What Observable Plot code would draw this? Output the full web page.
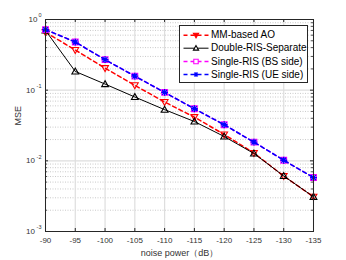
<!DOCTYPE html>
<html>
<head>
<meta charset="utf-8">
<script src="https://cdn.jsdelivr.net/npm/d3@7"></script>
<script src="https://cdn.jsdelivr.net/npm/@observablehq/plot@0.6"></script>
<style>
  html, body { margin: 0; padding: 0; background: #fff; }
</style>
</head>
<body>
<div id="chart"></div>
<script>
// ---- data ----
const noisePower = [-90, -95, -100, -105, -110, -115, -120, -125, -130, -135];
const mmBasedAO   = [0.66, 0.37, 0.205, 0.117, 0.068, 0.0415, 0.0236, 0.0129, 0.0061, 0.0031];
const doubleRIS   = [0.70, 0.184, 0.122, 0.080, 0.053, 0.036, 0.0221, 0.0127, 0.0061, 0.0031];
const singleBS    = [0.72, 0.48, 0.27, 0.158, 0.093, 0.0546, 0.0324, 0.0184, 0.0102, 0.0058];
const singleUE    = [0.72, 0.48, 0.27, 0.158, 0.093, 0.0546, 0.0324, 0.0184, 0.0102, 0.0058];
const seriesNames = ["MM-based AO", "Double-RIS-Separate", "Single-RIS (BS side)", "Single-RIS (UE side)"];
const xTicks = [-90, -95, -100, -105, -110, -115, -120, -125, -130, -135];
const yTicks = [1, 0.1, 0.01, 0.001];
const yExponents = ["0", "-1", "-2", "-3"];
const xLabel = "noise power（dB）";
const yLabel = "MSE";

// ---- derived tables ----
const rows = (vals) => noisePower.map((x, i) => ({x, y: vals[i]}));
const yMinor = [];
for (const d of [0.001, 0.01, 0.1]) for (let m = 2; m <= 9; m++) yMinor.push(+(m * d).toPrecision(3));
const yTickRows = yTicks.map((v, i) => ({v, e: yExponents[i]}));

// ---- custom symbols ----
const triDown = {draw(ctx, size) { const r = Math.sqrt(size / Math.PI);
  ctx.moveTo(0, r); ctx.lineTo(-r, -r * 0.75); ctx.lineTo(r, -r * 0.75); ctx.closePath(); }};
const triUp = {draw(ctx, size) { const r = Math.sqrt(size / Math.PI);
  ctx.moveTo(0, -r); ctx.lineTo(-r, r * 0.75); ctx.lineTo(r, r * 0.75); ctx.closePath(); }};
const sq = {draw(ctx, size) { const r = Math.sqrt(size / Math.PI) * 0.85;
  ctx.rect(-r, -r, 2 * r, 2 * r); }};
const star = {draw(ctx, size) { const r = Math.sqrt(size / Math.PI);
  for (const a of [0, Math.PI / 4, Math.PI / 2, 3 * Math.PI / 4]) {
    ctx.moveTo(r * Math.cos(a), r * Math.sin(a)); ctx.lineTo(-r * Math.cos(a), -r * Math.sin(a)); } }};
const seg = {draw(ctx) { ctx.moveTo(-12.5, 0); ctx.lineTo(12.5, 0); }};

const FW = 268, FH = 212; // frame size
const ink = "#262626";

const styles = [
  {vals: mmBasedAO, color: "#ff0000", dash: "4,3", lw: 1.5, sym: triDown},
  {vals: doubleRIS, color: "#000000", dash: null, lw: 1, sym: triUp},
  {vals: singleBS,  color: "#ff00ff", dash: "4,3", lw: 1.5, sym: sq},
  {vals: singleUE,  color: "#0000ff", dash: "4,3", lw: 1.5, sym: star}
];

const seriesMarks = styles.flatMap(s => [
  Plot.line(rows(s.vals), {x: "x", y: "y", stroke: s.color, strokeWidth: s.lw, strokeDasharray: s.dash}),
  Plot.dot(rows(s.vals), {x: "x", y: "y", symbol: s.sym, r: 3.4, stroke: s.color, fill: "none", strokeWidth: s.sym === star ? 1.3 : 1.1})
]);

const legendRowsY = [15.7, 28.7, 42, 55];
const legendMarks = [
  Plot.frame({fill: "white", stroke: ink, strokeWidth: 1, insetLeft: 134, insetRight: 6, insetTop: 6, insetBottom: 149}),
  ...styles.flatMap((s, i) => [
    Plot.dot([0], {frameAnchor: "top-left", dx: 150.5, dy: legendRowsY[i], symbol: seg, stroke: s.color,
      strokeWidth: s.lw, strokeDasharray: s.dash}),
    Plot.dot([0], {frameAnchor: "top-left", dx: 150.5, dy: legendRowsY[i], symbol: s.sym, r: 2.6,
      stroke: s.color, fill: s.sym === triDown ? s.color : "white", strokeWidth: 1.1}),
    Plot.text([seriesNames[i]], {frameAnchor: "top-left", dx: 165.5, dy: legendRowsY[i], text: d => d,
      textAnchor: "start", lineAnchor: "middle", fontSize: 10, fill: "#000"})
  ])
];

const chart = Plot.plot({
  width: 346,
  height: 260,
  marginLeft: 45,
  marginRight: 33,
  marginTop: 19,
  marginBottom: 29,
  style: {fontFamily: "'Liberation Sans', Arial, Helvetica, sans-serif", fontSize: "8px", background: "white", color: ink},
  x: {domain: [-90, -135]},
  y: {type: "log", domain: [0.001, 1]},
  marks: [
    // grid
    Plot.ruleY(yMinor, {y: d => d, stroke: "#bdbdbd", strokeDasharray: "1,1.5", strokeWidth: 0.8}),
    Plot.ruleX(xTicks, {x: d => d, stroke: "#dedede", strokeWidth: 1.2}),
    Plot.ruleY(yTicks, {y: d => d, stroke: "#dedede", strokeWidth: 1.2}),
    // tick marks (inside, both sides)
    Plot.tickX(xTicks, {x: d => d, insetTop: FH - 3, stroke: ink}),
    Plot.tickX(xTicks, {x: d => d, insetBottom: FH - 3, stroke: ink}),
    Plot.tickY(yTicks, {y: d => d, insetRight: FW - 3, stroke: ink}),
    Plot.tickY(yTicks, {y: d => d, insetLeft: FW - 3, stroke: ink}),
    Plot.tickY(yMinor, {y: d => d, insetRight: FW - 2, stroke: ink, strokeWidth: 0.8}),
    Plot.tickY(yMinor, {y: d => d, insetLeft: FW - 2, stroke: ink, strokeWidth: 0.8}),
    // axes labels
    Plot.axisX(xTicks, {tickSize: 0, tickPadding: 6, fontSize: 8, fill: "#333", tickFormat: d => `${d}`, label: null}),
    Plot.axisY({ticks: [], tickSize: 0, label: null}),
    Plot.text(yTickRows.filter(d => d.e === "0"), {y: "v", frameAnchor: "left", dx: -8, textAnchor: "end", text: () => "10", fontSize: 8, fill: "#333"}),
    Plot.text(yTickRows.filter(d => d.e !== "0"), {y: "v", frameAnchor: "left", dx: -10.5, textAnchor: "end", text: () => "10", fontSize: 8, fill: "#333"}),
    Plot.text(yTickRows, {y: "v", frameAnchor: "left", dx: -4, dy: -4, textAnchor: "end", text: "e", fontSize: 5.5, fill: "#333"}),
    Plot.text([xLabel], {frameAnchor: "bottom", dy: 22, text: d => d, fontSize: 9, fill: "#333", lineAnchor: "middle"}),
    Plot.text([yLabel], {frameAnchor: "left", dx: -27, rotate: -90, text: d => d, fontSize: 9, fill: "#333"}),
    // series
    ...seriesMarks,
    // frame
    Plot.frame({stroke: ink, strokeWidth: 1}),
    // legend
    ...legendMarks
  ]
});
document.getElementById("chart").appendChild(chart);
</script>
</body>
</html>
